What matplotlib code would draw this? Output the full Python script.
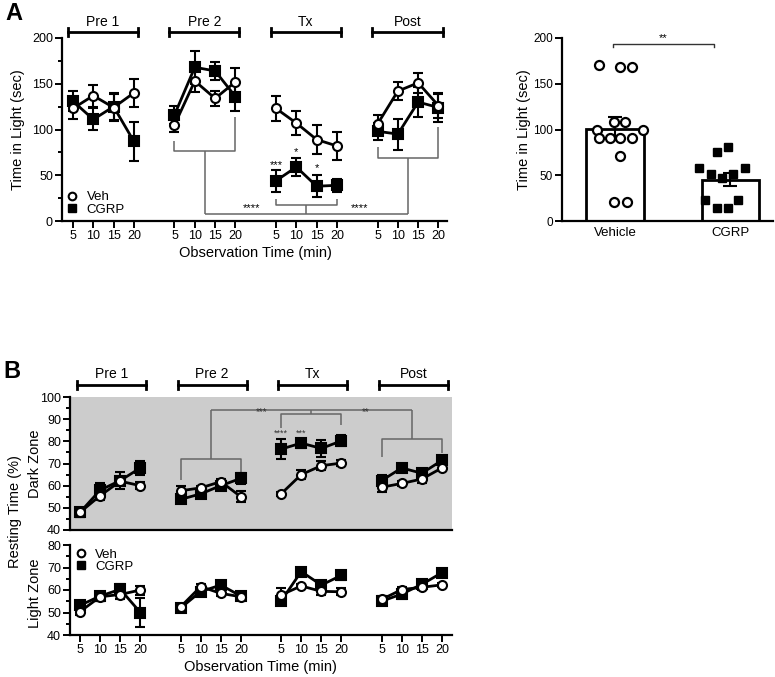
import numpy as np
import matplotlib
matplotlib.use("Agg")
import matplotlib.pyplot as plt
from matplotlib.lines import Line2D
from matplotlib.transforms import blended_transform_factory

plt.rcParams['font.family'] = ['Liberation Sans', 'DejaVu Sans']

phases = ["Pre 1", "Pre 2", "Tx", "Post"]
times = [5, 10, 15, 20]

# panel A, time in light (sec), mean and sem, 4 phases x 4 time bins
a_veh = [123, 137, 124, 140, 105, 153, 134, 152, 123, 107, 89, 82, 106, 142, 151, 126]
a_veh_sem = [12, 12, 15, 15, 8, 12, 8, 15, 14, 13, 16, 15, 10, 10, 11, 13]
a_cgrp = [131, 111, 125, 87, 116, 168, 164, 136, 44, 59, 38, 39, 98, 95, 130, 124]
a_cgrp_sem = [11, 12, 15, 21, 10, 18, 10, 16, 12, 10, 12, 7, 9, 17, 16, 16]

# panel A right, per-animal totals
bar_groups = ["Vehicle", "CGRP"]
veh_pts = [170, 168, 168, 108, 108, 99, 99, 91, 91, 91, 91, 71, 21, 21]
cgrp_pts = [81, 75, 58, 58, 51, 51, 47, 23, 23, 14, 14]
bar_means = [101, 45]
bar_sems = [13, 7]

# panel B, resting time (%)
b_dark_veh = [48, 55.5, 62, 60, 57.7, 59, 61.8, 55, 56.3, 65, 69, 70.2, 59.3, 61, 63, 68]
b_dark_veh_sem = [2, 2, 2, 1.5, 2, 1, 1, 2.5, 1, 2, 2, 1.5, 2, 1, 2, 1.5]
b_dark_cgrp = [48, 58, 62.3, 68, 53.8, 56.3, 60, 63.3, 76.5, 79.2, 76.8, 80.2, 62.3, 68, 65.6, 71.4]
b_dark_cgrp_sem = [2, 3, 4, 3, 1, 1.5, 1.5, 2.5, 4.5, 2, 4, 2.5, 2.5, 2, 1.5, 2]
b_light_veh = [50.4, 57, 58, 60, 52.5, 61.5, 58.5, 57, 57.8, 61.8, 59.4, 59.2, 55.8, 60.2, 61.2, 62.3]
b_light_veh_sem = [1.5, 2, 2, 2, 1, 1, 1, 1, 3, 1, 1.5, 1.5, 1.5, 1, 1, 1]
b_light_cgrp = [53.2, 57.3, 60.3, 50, 52, 59.3, 62.2, 57.3, 55.1, 68.2, 62.2, 66.5, 55, 58.2, 62.5, 67.7]
b_light_cgrp_sem = [1.5, 2, 2.5, 6.3, 1, 1.5, 1.5, 1.5, 1.5, 1.5, 2, 2, 1.5, 2, 1.5, 1.5]

# layout: x of each bin, phases spaced 5 units apart
xpos = np.array([g * 5 + i for g in range(4) for i in range(4)], dtype=float)
xlabels = [str(t) for _ in phases for t in times]

# scatter spread for the bar chart (layout only)
veh_dx = [-0.14, 0.04, 0.15, -0.01, 0.09, -0.16, 0.24, -0.14, -0.04, 0.04, 0.15, 0.04, -0.01, 0.1]
cgrp_dx = [-0.02, -0.12, -0.27, 0.13, -0.17, 0.02, -0.07, -0.22, 0.07, -0.12, -0.02]

fig = plt.figure(figsize=(7.75, 6.77), dpi=100)
GRAY = '#666666'


def style_axis(ax, lw=1.6, labelsize=9):
    for s in ['top', 'right']:
        ax.spines[s].set_visible(False)
    ax.spines['left'].set_linewidth(lw)
    ax.spines['bottom'].set_linewidth(lw)
    ax.tick_params(axis='both', which='major', direction='out', length=5, width=1.4, labelsize=labelsize, pad=1.5)
    ax.tick_params(axis='y', which='minor', direction='out', length=3, width=1.4)


def draw_series(ax, mean, sem, veh=True):
    kw = dict(color='black', lw=2, elinewidth=1.5, capsize=3.5, capthick=1.5, markersize=6.5, mew=1.5)
    for g in range(4):
        sl = slice(g * 4, g * 4 + 4)
        if veh:
            ax.errorbar(xpos[sl], mean[sl], yerr=sem[sl], marker='o', mfc='white', mec='black', zorder=4, **kw)
        else:
            ax.errorbar(xpos[sl], mean[sl], yerr=sem[sl], marker='s', mfc='black', mec='black', zorder=3, **kw)


def phase_bars(ax, y_bar, y_lab, cap, x0, x1):
    tr = blended_transform_factory(ax.transData, ax.transAxes)
    for g, name in enumerate(phases):
        a, b = g * 5 + x0, g * 5 + x1
        ax.plot([a, b], [y_bar, y_bar], transform=tr, color='black', lw=2, clip_on=False)
        for xx in (a, b):
            ax.plot([xx, xx], [y_bar - cap, y_bar + cap], transform=tr, color='black', lw=2, clip_on=False)
        ax.text((a + b) / 2, y_lab, name, transform=tr, ha='center', va='center', fontsize=10)


def seg(ax, xs, ys, color=GRAY):
    ax.plot(xs, ys, color=color, lw=1.1, solid_capstyle='butt', zorder=2, clip_on=False)


handles = [Line2D([], [], marker='o', ls='', mfc='white', mec='black', mew=1.5, markersize=5.5, color='black'),
           Line2D([], [], marker='s', ls='', mfc='black', mec='black', markersize=5.5, color='black')]
leg_kw = dict(frameon=False, fontsize=9.5, handlelength=1.0, handletextpad=0.6, labelspacing=0.0)

# ---------- Panel A left ----------
axA = fig.add_axes([62 / 775, 1 - 221 / 677, 385 / 775, 183 / 677])
style_axis(axA)
axA.set_xlim(-0.54, 18.42)
axA.set_ylim(0, 200)
axA.set_yticks([0, 50, 100, 150, 200])
axA.set_yticks(np.arange(25, 200, 50), minor=True)
axA.set_xticks(xpos)
axA.set_xticklabels(xlabels)
draw_series(axA, a_cgrp, a_cgrp_sem, veh=False)
draw_series(axA, a_veh, a_veh_sem, veh=True)
phase_bars(axA, 1.033, 1.087, 0.022, -0.25, 3.2)

# comparison brackets
seg(axA, [5, 5, 8, 8], [87, 76.5, 76.5, 114])
seg(axA, [6.5, 6.5], [76.5, 8])
seg(axA, [10, 10, 13, 13], [24, 17.5, 17.5, 24])
seg(axA, [11.5, 11.5], [17.5, 8])
seg(axA, [15, 15, 18, 18], [81, 69, 69, 103])
seg(axA, [16.5, 16.5], [69, 8])
seg(axA, [6.5, 16.5], [8, 8])
axA.text(8.8, 9, '****', ha='center', va='bottom', fontsize=8)
axA.text(14.1, 9, '****', ha='center', va='bottom', fontsize=8)
axA.text(10, 56, '***', ha='center', va='bottom', fontsize=8)
axA.text(11, 70, '*', ha='center', va='bottom', fontsize=8)
axA.text(12, 52, '*', ha='center', va='bottom', fontsize=8)

axA.legend(handles, ['Veh', 'CGRP'], loc='lower left', bbox_to_anchor=(-0.005, 0.0), borderaxespad=0, **leg_kw)

fig.text(18 / 775, 1 - 130 / 677, 'Time in Light (sec)', rotation=90, ha='center', va='center', fontsize=10.5)
fig.text(255 / 775, 1 - 253 / 677, 'Observation Time (min)', ha='center', va='center', fontsize=10.5)

# ---------- Panel A right ----------
axR = fig.add_axes([562 / 775, 1 - 221 / 677, 211 / 775, 183 / 677])
style_axis(axR, labelsize=8.5)
axR.set_xlim(-0.46, 1.37)
axR.set_ylim(0, 200)
axR.set_yticks([0, 50, 100, 150, 200])
axR.set_xticks([0, 1])
axR.set_xticklabels(bar_groups, fontsize=9.5)
axR.tick_params(axis='x', length=0, pad=4)
axR.bar([0, 1], bar_means, width=0.5, color='white', edgecolor='black', lw=2, zorder=2)
axR.errorbar([0, 1], bar_means, yerr=bar_sems, fmt='none', ecolor='black', elinewidth=1.5,
             capsize=5, capthick=1.5, zorder=3)
axR.plot(np.array(veh_dx), veh_pts, 'o', mfc='white', mec='black', mew=1.6, markersize=6.5, zorder=4)
axR.plot(1 + np.array(cgrp_dx), cgrp_pts, 's', mfc='black', mec='black', markersize=6, zorder=4)
axR.plot([-0.02, -0.02, 0.86, 0.86], [190, 193.5, 193.5, 190], color='#333333', lw=1, clip_on=False)
axR.text(0.42, 194, '**', ha='center', va='bottom', fontsize=8)
fig.text(524 / 775, 1 - 130 / 677, 'Time in Light (sec)', rotation=90, ha='center', va='center', fontsize=10.5)

# ---------- Panel B dark zone ----------
axD = fig.add_axes([70 / 775, 1 - 530 / 677, 382 / 775, 133 / 677])
style_axis(axD)
axD.set_facecolor('#cccccc')
axD.set_xlim(-0.5, 18.5)
axD.set_ylim(40, 100)
axD.set_yticks(np.arange(40, 101, 10))
axD.set_yticks(np.arange(45, 100, 10), minor=True)
axD.set_xticks([])
draw_series(axD, b_dark_cgrp, b_dark_cgrp_sem, veh=False)
draw_series(axD, b_dark_veh, b_dark_veh_sem, veh=True)
phase_bars(axD, 1.09, 1.173, 0.03, -0.15, 3.3)

seg(axD, [5, 5, 8, 8], [62.5, 72, 72, 64])
seg(axD, [6.5, 6.5], [72, 94.3])
seg(axD, [10, 10, 13, 13], [86, 92.3, 92.3, 87.3])
seg(axD, [11.5, 11.5], [92.3, 94.3])
seg(axD, [15, 15, 18, 18], [73, 81, 81, 74.7])
seg(axD, [16.5, 16.5], [81, 94.3])
seg(axD, [6.5, 16.5], [94.3, 94.3])
axD.text(9.05, 91, '***', ha='center', va='bottom', fontsize=7, color='#333333')
axD.text(14.2, 91, '**', ha='center', va='bottom', fontsize=7, color='#333333')
axD.text(10, 81.5, '****', ha='center', va='bottom', fontsize=6.5, color='#333333')
axD.text(11, 81.5, '***', ha='center', va='bottom', fontsize=6.5, color='#333333')

# ---------- Panel B light zone ----------
axL = fig.add_axes([70 / 775, 1 - 635 / 677, 382 / 775, 90 / 677])
style_axis(axL)
axL.set_xlim(-0.5, 18.5)
axL.set_ylim(40, 80)
axL.set_yticks(np.arange(40, 81, 10))
axL.set_yticks(np.arange(45, 80, 10), minor=True)
axL.set_xticks(xpos)
axL.set_xticklabels(xlabels)
draw_series(axL, b_light_cgrp, b_light_cgrp_sem, veh=False)
draw_series(axL, b_light_veh, b_light_veh_sem, veh=True)
axL.legend(handles, ['Veh', 'CGRP'], loc='upper left', bbox_to_anchor=(-0.01, 1.05), borderaxespad=0.2, **leg_kw)

fig.text(15 / 775, 1 - 512 / 677, 'Resting Time (%)', rotation=90, ha='center', va='center', fontsize=10.5)
fig.text(35 / 775, 1 - 464 / 677, 'Dark Zone', rotation=90, ha='center', va='center', fontsize=10.5)
fig.text(35 / 775, 1 - 593 / 677, 'Light Zone', rotation=90, ha='center', va='center', fontsize=10.5)
fig.text(260 / 775, 1 - 667 / 677, 'Observation Time (min)', ha='center', va='center', fontsize=10.5)

fig.text(14 / 775, 1 - 13 / 677, 'A', ha='center', va='center', fontsize=17, fontweight='bold')
fig.text(12 / 775, 1 - 372 / 677, 'B', ha='center', va='center', fontsize=17, fontweight='bold')

fig.savefig('out.png', dpi=100)
